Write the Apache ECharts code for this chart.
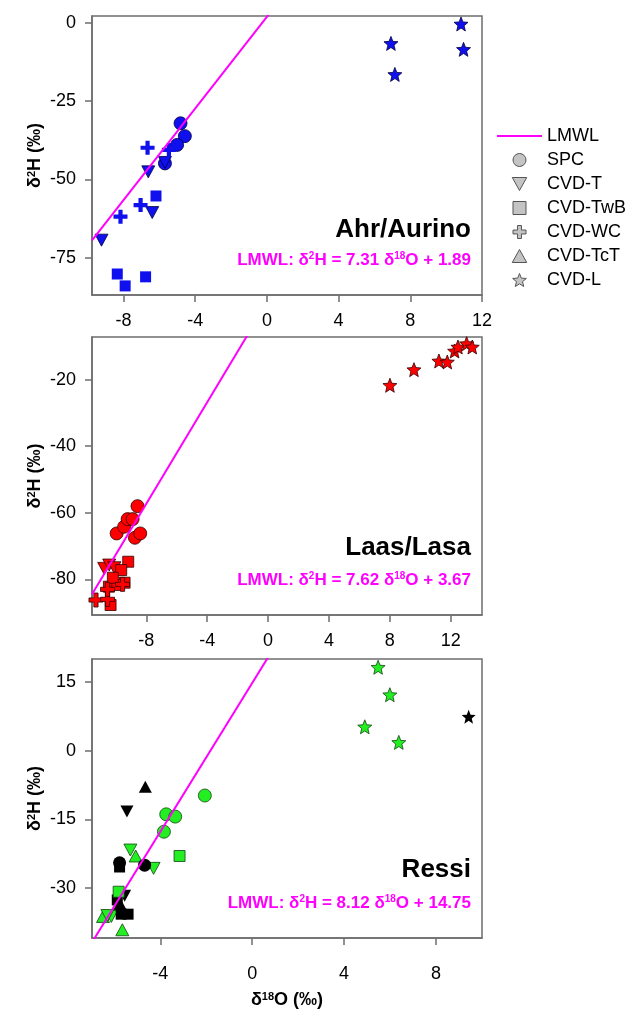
<!DOCTYPE html>
<html>
<head>
<meta charset="utf-8">
<script src="https://cdn.jsdelivr.net/npm/echarts@6/dist/echarts.min.js"></script>
<style>
  html, body { margin: 0; padding: 0; background: #fff; }
  #chart { width: 636px; height: 1014px; }
</style>
</head>
<body>
<div id="chart"></div>
<script>
// local meteoric water lines [slope, intercept]
const lmwlAhr = [7.31, 1.89];
const lmwlLaas = [7.62, 3.67];
const lmwlRessi = [8.12, 14.75];

// Ahr/Aurino (blue) [d18O, d2H]
const ahrSPC = [[-4.82, -32.1], [-4.58, -36.2], [-5.01, -39.0], [-5.69, -44.9]];
const ahrT = [[-5.69, -44.6], [-6.62, -47.6], [-6.40, -60.6], [-9.23, -69.4]];
const ahrTwB = [[-6.19, -55.3], [-8.35, -80.2], [-7.91, -84.0], [-6.77, -81.1]];
const ahrWC = [[-6.66, -39.9], [-5.47, -40.6], [-7.05, -58.2], [-8.17, -61.9]];
const ahrL = [[10.83, -0.4], [6.92, -6.6], [10.97, -8.5], [7.14, -16.5]];

// Laas/Lasa (red)
const laasSPC = [[-9.95, -66.2], [-9.46, -64.2], [-9.23, -61.9], [-8.90, -61.9], [-8.58, -58.0], [-8.75, -67.5], [-8.40, -66.2]];
const laasT = [[-10.77, -76.7], [-10.44, -75.7], [-10.10, -76.5]];
const laasTwB = [[-9.19, -74.7], [-9.65, -77.2], [-9.43, -81.0], [-10.46, -82.2], [-10.35, -87.7], [-9.91, -81.7], [-10.20, -79.5]];
const laasWC = [[-11.31, -86.2], [-10.55, -86.0], [-9.56, -81.5], [-10.55, -83.0]];
const laasL = [[8.01, -21.7], [9.59, -17.0], [11.23, -14.4], [11.78, -14.7], [12.26, -11.4], [12.48, -10.2], [13.05, -9.2], [13.42, -10.2]];

// Ressi, black group
const ressiBlackSPC = [[-5.77, -24.5], [-4.68, -25.0]];
const ressiBlackT = [[-5.45, -13.3], [-5.55, -31.7]];
const ressiBlackTwB = [[-5.77, -25.4], [-5.87, -32.6], [-5.70, -35.7], [-5.40, -35.7]];
const ressiBlackTcT = [[-4.65, -7.9], [-5.75, -33.4]];
const ressiBlackL = [[9.42, 7.4]];
// Ressi, green group
const ressiSPC = [[-2.06, -9.8], [-3.74, -13.9], [-3.35, -14.4], [-3.84, -17.7]];
const ressiT = [[-5.30, -21.7], [-4.29, -25.7], [-6.13, -36.2], [-6.30, -36.0]];
const ressiTwB = [[-3.16, -23.0], [-5.81, -30.8]];
const ressiTcT = [[-5.07, -23.0], [-6.49, -36.2], [-5.65, -39.1], [-5.84, -34.4]];
const ressiL = [[5.48, 18.2], [5.99, 12.2], [4.90, 5.2], [6.38, 1.8]];

// axes
const xRanges = [[-9.76, 12], [-11.57, 14.06], [-6.97, 10]];
const yRanges = [[-86.9, 2.14], [-90.7, -7.2], [-40.9, 20.0]];
const xTicks = [[-8, -4, 0, 4, 8, 12], [-8, -4, 0, 4, 8, 12], [-4, 0, 4, 8]];
const yTicks = [[0, -25, -50, -75], [-20, -40, -60, -80], [15, 0, -15, -30]];
const siteNames = ['Ahr/Aurino', 'Laas/Lasa', 'Ressi'];

const FONT = 'Arial, "Liberation Sans", sans-serif';
const AXIS_GRAY = '#6e6e6e';

const symbols = {
  'SPC': 'circle',
  'CVD-T': 'path://M0,0L10,0L5,9Z',
  'CVD-TwB': 'path://M0,0H10V10H0Z',
  'CVD-WC': 'path://M3.5,0H6.5V3.5H10V6.5H6.5V10H3.5V6.5H0V3.5H3.5Z',
  'CVD-TcT': 'path://M5,0L10,9L0,9Z',
  'CVD-L': 'path://M50,0L62.93,32.2L97.55,34.55L70.92,56.8L79.39,90.45L50,72L20.61,90.45L29.08,56.8L2.45,34.55L37.07,32.2Z'
};
const sizes = {
  'SPC': 13, 'CVD-T': [13, 12], 'CVD-TwB': 11, 'CVD-WC': 14, 'CVD-TcT': [13, 12], 'CVD-L': 14
};

const grids = [
  { left: 92, top: 16, width: 390, height: 279 },
  { left: 92, top: 337, width: 390, height: 278 },
  { left: 92, top: 659, width: 390, height: 279 }
].map(g => Object.assign(g, {
  show: true, borderColor: AXIS_GRAY, borderWidth: 1.5, backgroundColor: '#fff',
  containLabel: false, outerBoundsMode: 'none'
}));

const rich = {
  s: { fontSize: 11, fontWeight: 'bold', fontFamily: FONT, verticalAlign: 'top', color: '#000' }
};

const xAxis = xRanges.map((r, i) => ({
  type: 'value', gridIndex: i, min: r[0], max: r[1],
  axisLine: { show: true, onZero: false, lineStyle: { color: AXIS_GRAY, width: 1.5 } },
  axisTick: { show: true, length: 7, customValues: xTicks[i], lineStyle: { color: AXIS_GRAY, width: 1.5 } },
  axisLabel: { customValues: xTicks[i], margin: i === 2 ? 27 : 17, fontSize: 18, color: '#000', fontFamily: FONT },
  splitLine: { show: false },
  name: i === 2 ? 'δ{s|18}O (‰)' : '',
  nameLocation: 'middle', nameGap: 53, nameMoveOverlap: false,
  nameTextStyle: { fontSize: 18, fontWeight: 'bold', color: '#000', fontFamily: FONT, rich: rich }
}));

const yAxis = yRanges.map((r, i) => ({
  type: 'value', gridIndex: i, min: r[0], max: r[1],
  axisLine: { show: true, onZero: false, lineStyle: { color: AXIS_GRAY, width: 1.5 } },
  axisTick: { show: true, length: 7, customValues: yTicks[i], lineStyle: { color: AXIS_GRAY, width: 1.5 } },
  axisLabel: { customValues: yTicks[i], margin: 16, fontSize: 18, color: '#000', fontFamily: FONT },
  splitLine: { show: false },
  name: 'δ{s|2}H (‰)', nameLocation: 'middle', nameRotate: 90, nameGap: 48, nameMoveOverlap: false,
  nameTextStyle: { fontSize: 18, fontWeight: 'bold', color: '#000', fontFamily: FONT, rich: rich }
}));

function lmwlSeries(coef, i) {
  const r = xRanges[i];
  return {
    name: 'LMWL', type: 'line', xAxisIndex: i, yAxisIndex: i,
    symbol: 'none', showSymbol: false, clip: true, silent: true,
    lineStyle: { color: '#ff00ff', width: 2 },
    itemStyle: { color: '#ff00ff' },
    data: [[r[0], coef[0] * r[0] + coef[1]], [r[1], coef[0] * r[1] + coef[1]]]
  };
}

function pts(name, data, i, fill, border) {
  return {
    name: name, type: 'scatter', xAxisIndex: i, yAxisIndex: i,
    symbol: symbols[name], symbolSize: sizes[name], data: data,
    itemStyle: { color: fill, borderColor: border, borderWidth: border ? 0.8 : 0, opacity: 1 }
  };
}

const BLUE = '#1010ee', RED = '#ff0000', GREEN = '#22ee22', BLACK = '#000000';

const series = [
  lmwlSeries(lmwlAhr, 0),
  pts('SPC', ahrSPC, 0, BLUE, '#000040'),
  pts('CVD-T', ahrT, 0, BLUE, '#000040'),
  pts('CVD-TwB', ahrTwB, 0, BLUE, null),
  pts('CVD-WC', ahrWC, 0, BLUE, null),
  pts('CVD-L', ahrL, 0, BLUE, '#000040'),

  lmwlSeries(lmwlLaas, 1),
  pts('SPC', laasSPC, 1, RED, '#330000'),
  pts('CVD-T', laasT, 1, RED, '#330000'),
  pts('CVD-TwB', laasTwB, 1, RED, '#330000'),
  pts('CVD-WC', laasWC, 1, RED, '#330000'),
  pts('CVD-L', laasL, 1, RED, '#330000'),

  lmwlSeries(lmwlRessi, 2),
  pts('CVD-TcT', ressiTcT, 2, GREEN, '#114411'),
  pts('CVD-T', ressiT, 2, GREEN, '#114411'),
  pts('CVD-TwB', ressiBlackTwB, 2, BLACK, null),
  pts('SPC', ressiBlackSPC, 2, BLACK, null),
  pts('CVD-T', ressiBlackT, 2, BLACK, null),
  pts('CVD-TcT', ressiBlackTcT, 2, BLACK, null),
  pts('CVD-L', ressiBlackL, 2, BLACK, null),
  pts('SPC', ressiSPC, 2, GREEN, '#114411'),
  pts('CVD-TwB', ressiTwB, 2, GREEN, '#114411'),
  pts('CVD-L', ressiL, 2, GREEN, '#114411')
];

const legendStyle = { color: '#c4c4c4', borderColor: '#555', borderWidth: 1 };
const legendNames = ['SPC', 'CVD-T', 'CVD-TwB', 'CVD-WC', 'CVD-TcT', 'CVD-L'];

// site labels and LMWL equations in the lower right of each panel
const coefs = [lmwlAhr, lmwlLaas, lmwlRessi];
const labelY = [[230, 260], [548, 580], [870, 903]];
const graphic = [];
siteNames.forEach((s, i) => {
  graphic.push({
    type: 'text', x: 471, y: labelY[i][0], z: 10,
    style: { text: s, font: 'bold 26px ' + FONT, fill: '#000', align: 'right', verticalAlign: 'middle' }
  });
  graphic.push({
    type: 'text', x: 471, y: labelY[i][1], z: 10,
    style: {
      text: 'LMWL: δ{s|2}H = ' + coefs[i][0].toFixed(2) + ' δ{s|18}O + ' + coefs[i][1].toFixed(2),
      font: 'bold 17px ' + FONT, fill: '#ff00ff', align: 'right', verticalAlign: 'middle',
      rich: { s: { font: 'bold 10px ' + FONT, fill: '#ff00ff', verticalAlign: 'top' } }
    }
  });
});

const chart = echarts.init(document.getElementById('chart'), null, { renderer: 'canvas' });
chart.setOption({
  animation: false,
  backgroundColor: '#fff',
  grid: grids,
  xAxis: xAxis,
  yAxis: yAxis,
  legend: {
    orient: 'vertical', left: 492, top: 122,
    itemWidth: 45, itemHeight: 13, itemGap: 6,
    selectedMode: false,
    textStyle: { fontSize: 18, color: '#000', fontFamily: FONT, lineHeight: 18 },
    data: [{
      name: 'LMWL', icon: 'path://M0,0H45V2H0Z',
      itemStyle: { color: '#ff00ff', borderWidth: 0 }
    }].concat(legendNames.map(n => ({
      name: n, icon: symbols[n], itemStyle: legendStyle
    })))
  },
  graphic: graphic,
  series: series
});
</script>
</body>
</html>
